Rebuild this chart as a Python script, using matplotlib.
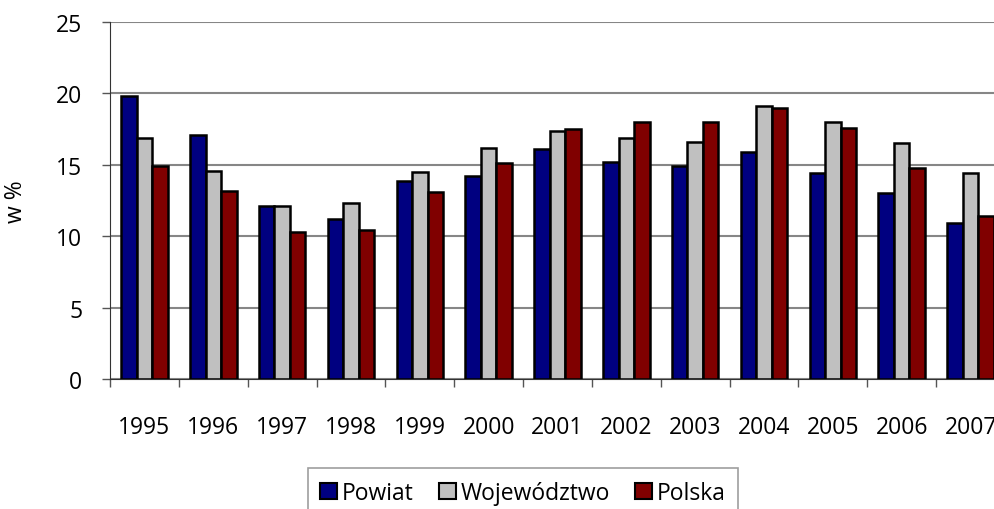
import numpy as np
import matplotlib
matplotlib.use('Agg')
import matplotlib.pyplot as plt

# lata i wartości (w %)
years = ['1995', '1996', '1997', '1998', '1999', '2000', '2001',
         '2002', '2003', '2004', '2005', '2006', '2007']
powiat = [19.8, 17.1, 12.1, 11.2, 13.9, 14.2, 16.1, 15.2, 14.9, 15.9, 14.4, 13.0, 10.9]
wojewodztwo = [16.9, 14.6, 12.1, 12.3, 14.5, 16.2, 17.4, 16.9, 16.6, 19.1, 18.0, 16.5, 14.4]
polska = [14.9, 13.2, 10.3, 10.4, 13.1, 15.1, 17.5, 18.0, 18.0, 19.0, 17.6, 14.8, 11.4]

plt.rcParams['font.family'] = ['Open Sans', 'DejaVu Sans']
plt.rcParams['font.size'] = 16.5

W, H = 994, 510
fig = plt.figure(figsize=(W / 100, H / 100), dpi=100)
# obszar wykresu wychodzi poza prawą krawędź (jak w oryginale)
ax = fig.add_axes([110 / W, (H - 380) / H, (1005 - 110) / W, (380 - 23) / H])

x = np.arange(len(years))
bw = 0.225
ax.bar(x - bw, powiat, bw, color='#000080', edgecolor='black', linewidth=1.8, label='Powiat', zorder=3)
ax.bar(x, wojewodztwo, bw, color='#C0C0C0', edgecolor='black', linewidth=1.8, label='Województwo', zorder=3)
ax.bar(x + bw, polska, bw, color='#800000', edgecolor='black', linewidth=1.8, label='Polska', zorder=3)

ax.set_xlim(-0.5, len(years) - 0.5)
ax.set_ylim(0, 25)
ax.set_yticks([0, 5, 10, 15, 20, 25])
ax.yaxis.grid(True, color='#868686', linewidth=1.5, zorder=0)
ax.tick_params(axis='y', length=6, width=1, color='#555555', pad=14)

# kreski między kategoriami, etykiety pośrodku
ax.set_xticks(np.arange(-0.5, len(years), 1.0))
ax.set_xticklabels([])
ax.tick_params(axis='x', which='major', length=6, width=1, color='#555555')
ax.set_xticks(x, minor=True)
ax.set_xticklabels(years, minor=True)
ax.tick_params(axis='x', which='minor', length=0, pad=26)

for s in ['top', 'right']:
    ax.spines[s].set_visible(False)
ax.spines['left'].set_color('#333333')
ax.spines['bottom'].set_color('#333333')

ax.set_ylabel('w %')
ax.yaxis.set_label_coords(-0.092, 0.5)

leg = fig.legend(loc='center', bbox_to_anchor=(523 / W, 1 - 494 / H), ncol=3,
                 frameon=True, fancybox=False, edgecolor='#868686',
                 handlelength=0.75, handleheight=0.75, handletextpad=0.2,
                 columnspacing=1.1, borderpad=0.55)
leg.get_frame().set_linewidth(1.2)
for p in leg.get_patches():
    p.set_linewidth(1.5)

fig.savefig('out.png', dpi=100)
